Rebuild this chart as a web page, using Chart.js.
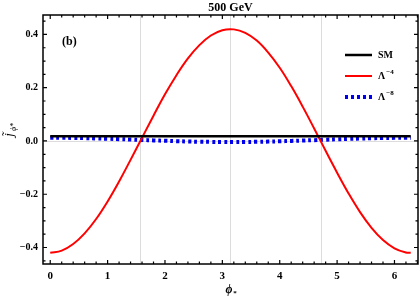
<!DOCTYPE html>
<html>
<head>
<meta charset="utf-8">
<script src="https://cdn.jsdelivr.net/npm/chart.js@4.4.1/dist/chart.umd.min.js"></script>
<style>
  html, body { margin: 0; padding: 0; background: #fff; }
</style>
</head>
<body>
<canvas id="grafica" width="420" height="300"></canvas>
<script>
// valores (phi* en radianes)
const phiValores = [0, 0.2, 0.4, 0.6, 0.8, 1.0, 1.2, 1.4, 1.6, 1.8, 2.0, 2.2, 2.4, 2.6, 2.8, 3.0,
                    3.2, 3.4, 3.6, 3.8, 4.0, 4.2, 4.4, 4.6, 4.8, 5.0, 5.2, 5.4, 5.6, 5.8, 6.0, 6.2, 6.283];
const smValores = [0.018, 0.018, 0.018, 0.018, 0.018, 0.018, 0.018, 0.018, 0.018, 0.018, 0.018,
                   0.018, 0.018, 0.018, 0.018, 0.018, 0.018, 0.018, 0.018, 0.018, 0.018, 0.018,
                   0.018, 0.018, 0.018, 0.018, 0.018, 0.018, 0.018, 0.018, 0.018, 0.018, 0.018];
const lambda4Valores = [-0.420, -0.412, -0.387, -0.347, -0.293, -0.227, -0.152, -0.071, 0.012, 0.095,
                        0.175, 0.247, 0.310, 0.360, 0.396, 0.416, 0.419, 0.406, 0.377, 0.332, 0.275,
                        0.206, 0.129, 0.047, -0.037, -0.119, -0.197, -0.267, -0.326, -0.372, -0.403,
                        -0.419, -0.420];
const lambda8Valores = [0.0120, 0.0118, 0.0114, 0.0106, 0.0096, 0.0083, 0.0069, 0.0054, 0.0038, 0.0022,
                        0.0007, -0.0007, -0.0019, -0.0029, -0.0035, -0.0039, -0.0040, -0.0037, -0.0032,
                        -0.0023, -0.0012, 0.0001, 0.0015, 0.0031, 0.0047, 0.0063, 0.0077, 0.0090,
                        0.0102, 0.0111, 0.0117, 0.0120, 0.0120];
const etiquetas = ['SM', 'Λ', 'Λ'];
const exponentes = ['', '−4', '−8'];
const xTicks = [0, 1, 2, 3, 4, 5, 6];
const yTicks = [-0.4, -0.2, 0.0, 0.2, 0.4];
const xGuias = [Math.PI / 2, Math.PI, 3 * Math.PI / 2];

const serif = '"Liberation Serif", "DejaVu Serif", serif';

function puntos(valores) {
    return phiValores.map((x, i) => ({ x: x, y: valores[i] }));
}

// marco, ticks hacia adentro, guias, leyenda y textos
const decorado = {
    id: 'decorado',
    beforeDatasetsDraw(chart) {
        const { ctx, chartArea: a, scales: { x, y } } = chart;
        ctx.save();
        ctx.strokeStyle = '#dcdcdc';
        ctx.lineWidth = 1;
        xGuias.forEach(v => {
            const px = Math.round(x.getPixelForValue(v)) + 0.5;
            ctx.beginPath(); ctx.moveTo(px, a.top); ctx.lineTo(px, a.bottom); ctx.stroke();
        });
        const py0 = Math.round(y.getPixelForValue(0)) + 0.5;
        ctx.beginPath(); ctx.moveTo(a.left, py0); ctx.lineTo(a.right, py0); ctx.stroke();
        ctx.restore();
    },
    afterDraw(chart) {
        const { ctx, chartArea: a, scales: { x, y } } = chart;
        ctx.save();
        ctx.strokeStyle = '#000';
        ctx.lineWidth = 1.5;
        ctx.strokeRect(a.left, a.top, a.right - a.left, a.bottom - a.top);

        ctx.lineWidth = 1.2;
        for (let k = 0; k <= 32; k++) {
            const v = k * 0.2;
            const px = x.getPixelForValue(v);
            if (px < a.left || px > a.right) continue;
            const largo = (k % 5 === 0) ? 4 : 2.5;
            ctx.beginPath();
            ctx.moveTo(px, a.bottom); ctx.lineTo(px, a.bottom - largo);
            ctx.moveTo(px, a.top); ctx.lineTo(px, a.top + largo);
            ctx.stroke();
        }
        for (let k = -10; k <= 10; k++) {
            const v = k * 0.05;
            const py = y.getPixelForValue(v);
            if (py < a.top || py > a.bottom) continue;
            const largo = (k % 4 === 0) ? 4 : 2.5;
            ctx.beginPath();
            ctx.moveTo(a.left, py); ctx.lineTo(a.left + largo, py);
            ctx.moveTo(a.right, py); ctx.lineTo(a.right - largo, py);
            ctx.stroke();
        }

        // titulo
        ctx.fillStyle = '#000';
        ctx.textAlign = 'center';
        ctx.textBaseline = 'middle';
        ctx.font = 'bold 12px ' + serif;
        ctx.fillText('500 GeV', (a.left + a.right) / 2, 8);

        // (b)
        ctx.font = 'bold 12px ' + serif;
        ctx.textAlign = 'left';
        ctx.fillText('(b)', 62, 42);

        // eje x
        ctx.font = 'bold italic 12px ' + serif;
        ctx.textAlign = 'center';
        ctx.fillText('ϕ', 229, 290);
        ctx.font = 'bold 7px ' + serif;
        ctx.fillText('*', 235, 293);

        // eje y
        ctx.save();
        ctx.translate(10, 132);
        ctx.rotate(-Math.PI / 2);
        ctx.font = 'italic 13px ' + serif;
        ctx.textAlign = 'center';
        ctx.fillText('j̃', -3, 0);
        ctx.font = 'italic 8px ' + serif;
        ctx.fillText('ϕ*', 5, 4);
        ctx.restore();

        // leyenda
        const filas = [55, 76, 97];
        chart.data.datasets.forEach((ds, i) => {
            const ly = filas[i];
            ctx.save();
            ctx.strokeStyle = ds.borderColor;
            ctx.lineWidth = ds.borderWidth;
            ctx.setLineDash(ds.borderDash || []);
            ctx.beginPath(); ctx.moveTo(345, ly); ctx.lineTo(372, ly); ctx.stroke();
            ctx.restore();
            ctx.fillStyle = '#000';
            ctx.textAlign = 'left';
            ctx.font = 'bold 10px ' + serif;
            ctx.fillText(etiquetas[i], 378, ly);
            if (exponentes[i]) {
                const w = ctx.measureText(etiquetas[i]).width;
                ctx.font = 'bold 7px ' + serif;
                ctx.fillText(exponentes[i], 378 + w + 1, ly - 4);
            }
        });
        ctx.restore();
    }
};

document.addEventListener('DOMContentLoaded', () => {
    new Chart(document.getElementById('grafica'), {
        type: 'line',
        data: {
            datasets: [
                { label: 'SM', data: puntos(smValores), borderColor: '#000000', borderWidth: 2.5,
                  pointRadius: 0, tension: 0 },
                { label: 'Λ^-4', data: puntos(lambda4Valores), borderColor: '#ff0000', borderWidth: 2,
                  pointRadius: 0, tension: 0.4 },
                { label: 'Λ^-8', data: puntos(lambda8Valores), borderColor: '#0000ee', borderWidth: 4,
                  borderDash: [3, 3], borderCapStyle: 'butt', pointRadius: 0, tension: 0.4 }
            ]
        },
        options: {
            responsive: false,
            animation: false,
            devicePixelRatio: 1,
            layout: { padding: { top: 15, right: 2, left: 0, bottom: 0 } },
            plugins: { legend: { display: false }, tooltip: { enabled: false }, title: { display: false } },
            scales: {
                x: {
                    type: 'linear',
                    min: -0.126,
                    max: 6.41,
                    afterBuildTicks: s => { s.ticks = xTicks.map(v => ({ value: v })); },
                    afterFit: s => { s.height = 36; },
                    grid: { display: false, drawTicks: false },
                    border: { display: false },
                    ticks: {
                        color: '#000', padding: 6,
                        font: { family: serif, size: 11, weight: 'bold' },
                        callback: v => String(v)
                    }
                },
                y: {
                    type: 'linear',
                    min: -0.462,
                    max: 0.473,
                    afterBuildTicks: s => { s.ticks = yTicks.map(v => ({ value: v })); },
                    afterFit: s => { s.width = 43; },
                    grid: { display: false, drawTicks: false },
                    border: { display: false },
                    ticks: {
                        color: '#000', padding: 5,
                        font: { family: serif, size: 10, weight: 'bold' },
                        callback: v => (v < 0 ? '−' : '') + Math.abs(v).toFixed(1)
                    }
                }
            }
        },
        plugins: [decorado]
    });
});
</script>
</body>
</html>
